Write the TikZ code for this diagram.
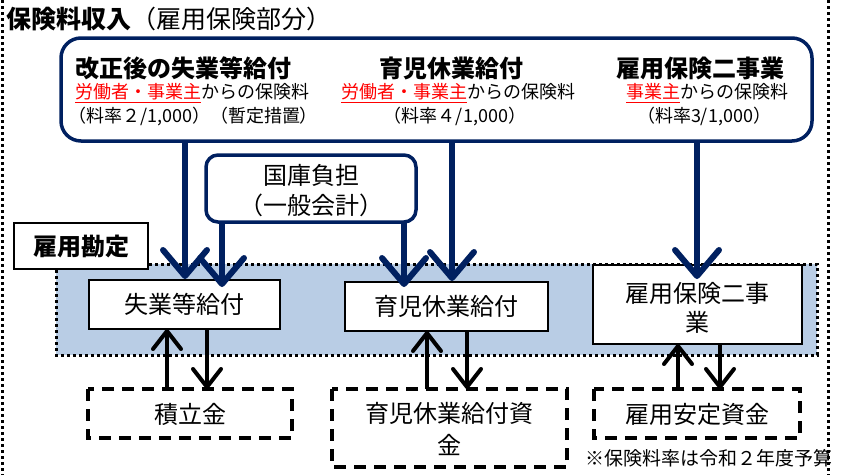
\documentclass[tikz,border=0pt]{standalone}
\usepackage{fontspec}
\setmainfont{Noto Sans CJK JP}
\usetikzlibrary{arrows.meta}
\definecolor{navy}{RGB}{0,32,96}
\definecolor{acct}{RGB}{185,205,229}
\definecolor{redtxt}{RGB}{255,0,0}
\begin{document}
\begin{tikzpicture}[x=1pt,y=-1pt,
  every node/.style={inner sep=0pt,outer sep=0pt},
  big/.style={font=\fontsize{24}{30}\selectfont},
  mid/.style={font=\fontsize{18}{22}\selectfont},
  midp/.style={font=\fontsize{18}{22}\selectfont\addfontfeatures{RawFeature=+palt}},
  navybox/.style={draw=navy,line width=3.5pt,rounded corners=#1},
  solidbox/.style={draw=black,line width=2pt,fill=white},
  dashbox/.style={draw=black,line width=3.5pt,dash pattern=on 12pt off 8pt},
  navyarr/.style={draw=navy,line width=6pt,-{Straight Barb[length=26pt,width=44pt,round]}},
  blkarr/.style={draw=black,line width=4pt,-{Straight Barb[length=18pt,width=28pt,round]}},
  dotline/.style={draw=black,line width=3pt,dash pattern=on 3pt off 3pt}
]
\useasboundingbox (0,0) rectangle (843,475);

% outer dotted frame
\draw[dotline] (2,0) -- (2,475);
\draw[dotline] (828,0) -- (828,475);

% title
\node[font=\fontsize{25}{30}\selectfont,anchor=west] (title) at (6,19) {\textbf{保険料収入}（雇用保険部分）};

% top box
\draw[navybox=20pt] (61,38) rectangle (812,141);
\node (top) at (436.5,89.5) [minimum width=751pt,minimum height=103pt] {};
\node[big,anchor=west] (h1) at (75,68) {\textbf{改正後の失業等給付}};
\node[mid,anchor=west] (l1a) at (75,93) {\textcolor{redtxt}{\underline{労働者・事業主}}からの保険料};
\node[mid,anchor=west] (l1b) at (68,116) {（料率２/1,000）};
\node[midp] (l1c) at (264,116) {（暫定措置）};
\node[big] (h2) at (451,68) {\textbf{育児休業給付}};
\node[mid] (l2a) at (458,93) {\textcolor{redtxt}{\underline{労働者・事業主}}からの保険料};
\node[mid] (l2b) at (455,116) {（料率４/1,000）};
\node[big] (h3) at (700,68) {\textbf{雇用保険二事業}};
\node[mid] (l3a) at (707,93) {\textcolor{redtxt}{\underline{事業主}}からの保険料};
\node[mid] (l3b) at (704,116) {（料率3/1,000）};

% kokko box
\draw[navybox=12pt] (206,155) rectangle (416,222);
\node (kk) at (311,188.5) [minimum width=210pt,minimum height=67pt] {};
\node[big] (kk1) at (311,175) {国庫負担};
\node[big] (kk2) at (311,205) {（一般会計）};

% blue account region
\draw[dotline,fill=acct] (56,264) rectangle (817,355);
\node (acc) at (436.5,309.5) [minimum width=761pt,minimum height=91pt] {};

% label box
\node[solidbox,big,minimum width=134pt,minimum height=46pt] (lab) at (81,246) {\textbf{雇用勘定}};

% solid boxes
\node[solidbox,big,minimum width=191pt,minimum height=49pt] (sg) at (184.5,304.5) {失業等給付};
\node[solidbox,big,minimum width=203pt,minimum height=49pt] (ik) at (446.5,306.5) {育児休業給付};
\node[solidbox,big,minimum width=209pt,minimum height=79pt,align=center] (nj) at (697.5,304.5) {};
\node[big] (nj1) at (697,293) {雇用保険二事};
\node[big] (nj2) at (697,322) {業};

% dashed boxes
\draw[dashbox] (88,389) rectangle (292,438);
\node[big] (tr) at (190,414) {積立金};
\node (trb) at (190,413.5) [minimum width=204pt,minimum height=49pt] {};
\draw[dashbox] (332,389) rectangle (567,467);
\node[big] (ikf1) at (449.5,413) {育児休業給付資};
\node[big] (ikf2) at (449.5,445) {金};
\node (ikb) at (449.5,428) [minimum width=235pt,minimum height=78pt] {};
\draw[dashbox] (594,389) rectangle (800,438);
\node[big] (ka) at (697,414) {雇用安定資金};
\node (kab) at (697,413.5) [minimum width=206pt,minimum height=49pt] {};

% note
\node[font=\fontsize{19}{22}\selectfont,anchor=east] (note) at (832,458) {※保険料率は令和２年度予算};

% navy arrow coordinates
\coordinate (t1) at (185,279);
\coordinate (t2) at (222,287);
\coordinate (t3) at (404,287);
\coordinate (t4) at (452,281);
\coordinate (t5) at (697,279);
\draw[navyarr] (top.south -| t1) -- (t1);
\draw[navyarr] (kk.south -| t2) -- (t2);
\draw[navyarr] (kk.south -| t3) -- (t3);
\draw[navyarr] (top.south -| t4) -- (t4);
\draw[navyarr] (top.south -| t5) -- (t5);

% black arrows
\coordinate (b1) at (167,0);
\coordinate (b2) at (207,0);
\coordinate (b3) at (427,0);
\coordinate (b4) at (467,0);
\coordinate (b5) at (678,0);
\coordinate (b6) at (720,0);
\draw[blkarr] (trb.north -| b1) -- (sg.south -| b1);
\draw[blkarr] (sg.south -| b2) -- (trb.north -| b2);
\draw[blkarr] (ikb.north -| b3) -- (ik.south -| b3);
\draw[blkarr] (ik.south -| b4) -- (ikb.north -| b4);
\draw[blkarr] (kab.north -| b5) -- (nj.south -| b5);
\draw[blkarr] (nj.south -| b6) -- (kab.north -| b6);
\end{tikzpicture}
\end{document}
